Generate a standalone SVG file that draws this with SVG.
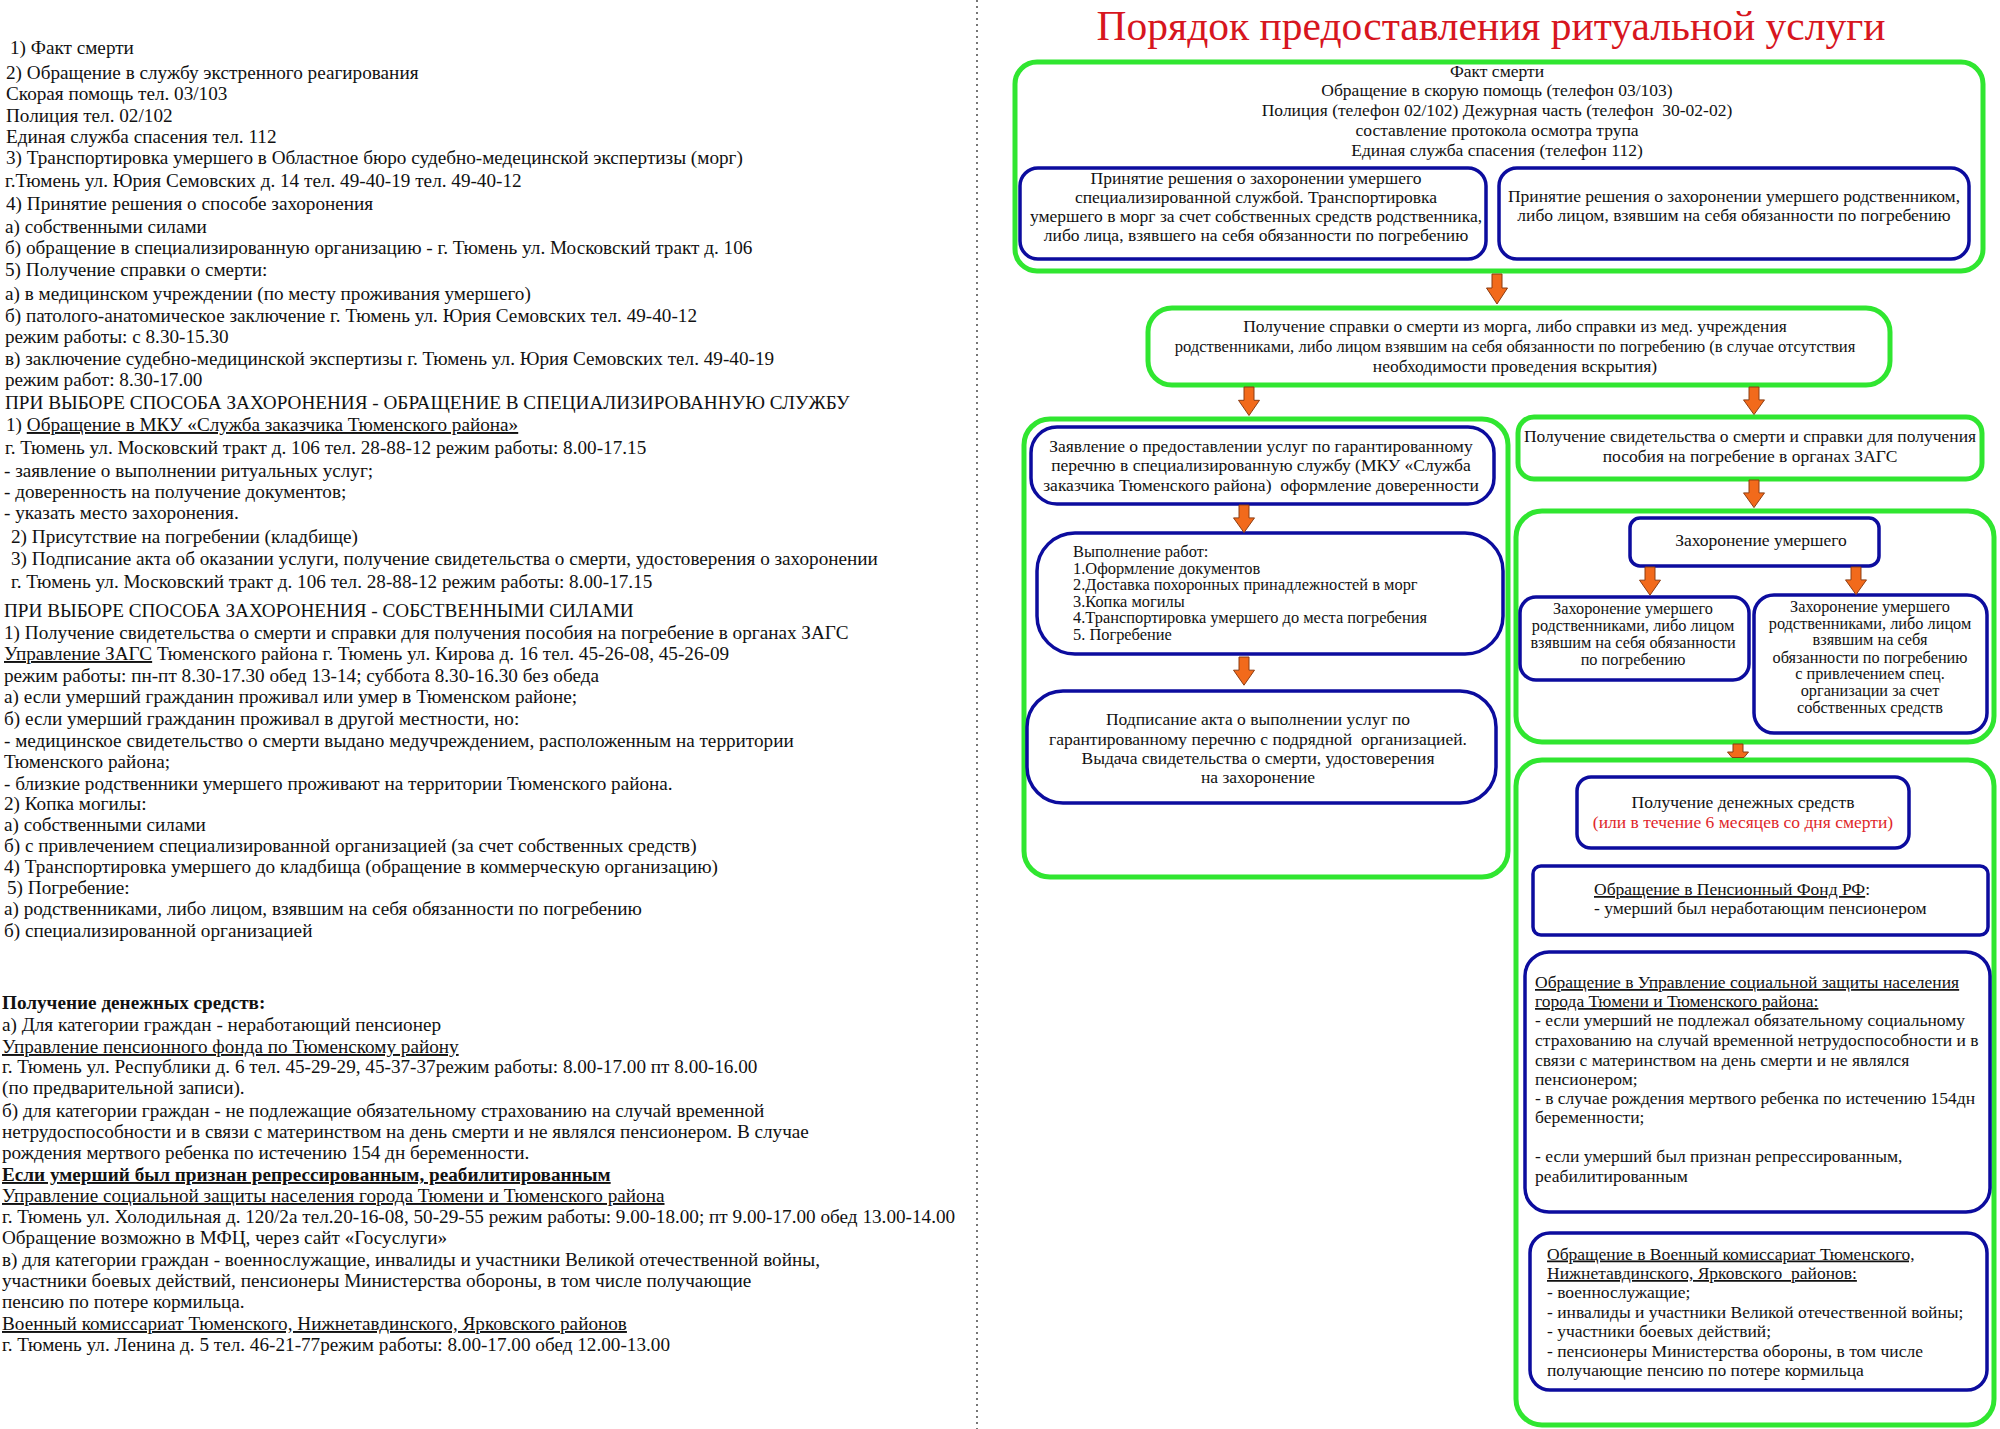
<svg xmlns="http://www.w3.org/2000/svg" xmlns:xlink="http://www.w3.org/1999/xlink" width="2000" height="1429" viewBox="0 0 2000 1429">
<defs>
<style>
text{font-family:'Liberation Serif','Times New Roman',serif;fill:#111}
.l{font-size:19.2px}
.t{font-size:17.5px}
.w{font-size:16.4px}
.s{font-size:16.3px}
.c{text-anchor:middle}
.u{text-decoration:underline}
.bd{font-weight:bold}
.g{fill:none;stroke:#30e630;stroke-width:5}
.b{fill:#fff;stroke:#0c0c9e;stroke-width:3.5}
.arr{fill:#f26a1b;stroke:#8a3b10;stroke-width:1}
.red{fill:#e0262a}
</style>
<path id="arrow" d="M-5,0 H5 V14 H10.5 L0,30 L-10.5,14 H-5 Z"/>
</defs>
<rect width="2000" height="1429" fill="#fff"/>
<line x1="977" y1="0" x2="977" y2="1429" stroke="#555" stroke-width="1.6" stroke-dasharray="2 4"/>

<g id="left-text" class="l">
<text x="10" y="54">1) Факт смерти</text>
<text x="6" y="79">2) Обращение в службу экстренного реагирования</text>
<text x="6" y="100">Скорая помощь тел. 03/103</text>
<text x="6" y="122">Полиция тел. 02/102</text>
<text x="6" y="143">Единая служба спасения тел. 112</text>
<text x="6" y="164">3) Транспортировка умершего в Областное бюро судебно-медецинской экспертизы (морг)</text>
<text x="5" y="187">г.Тюмень ул. Юрия Семовских д. 14 тел. 49-40-19 тел. 49-40-12</text>
<text x="6" y="210">4) Принятие решения о способе захоронения</text>
<text x="5" y="233">а) собственными силами</text>
<text x="5" y="254">б) обращение в специализированную организацию - г. Тюмень ул. Московский тракт д. 106</text>
<text x="5" y="276">5) Получение справки о смерти:</text>
<text x="5" y="300">а) в медицинском учреждении (по месту проживания умершего)</text>
<text x="5" y="322">б) патолого-анатомическое заключение г. Тюмень ул. Юрия Семовских тел. 49-40-12</text>
<text x="5" y="343">режим работы: с 8.30-15.30</text>
<text x="5" y="365">в) заключение судебно-медицинской экспертизы г. Тюмень ул. Юрия Семовских тел. 49-40-19</text>
<text x="5" y="386">режим работ: 8.30-17.00</text>
<text x="5" y="409">ПРИ ВЫБОРЕ СПОСОБА ЗАХОРОНЕНИЯ - ОБРАЩЕНИЕ В СПЕЦИАЛИЗИРОВАННУЮ СЛУЖБУ</text>
<text x="6" y="431">1) <tspan class="u">Обращение в МКУ «Служба заказчика Тюменского района»</tspan></text>
<text x="5" y="454">г. Тюмень ул. Московский тракт д. 106 тел. 28-88-12 режим работы: 8.00-17.15</text>
<text x="4" y="477">- заявление о выполнении ритуальных услуг;</text>
<text x="4" y="498">- доверенность на получение документов;</text>
<text x="4" y="519">- указать место захоронения.</text>
<text x="11" y="543">2) Присутствие на погребении (кладбище)</text>
<text x="11" y="565">3) Подписание акта об оказании услуги, получение свидетельства о смерти, удостоверения о захоронении</text>
<text x="11" y="588">г. Тюмень ул. Московский тракт д. 106 тел. 28-88-12 режим работы: 8.00-17.15</text>
<text x="4" y="617">ПРИ ВЫБОРЕ СПОСОБА ЗАХОРОНЕНИЯ - СОБСТВЕННЫМИ СИЛАМИ</text>
<text x="4" y="639">1) Получение свидетельства о смерти и справки для получения пособия на погребение в органах ЗАГС</text>
<text x="4" y="660"><tspan class="u">Управление ЗАГС</tspan> Тюменского района г. Тюмень ул. Кирова д. 16 тел. 45-26-08, 45-26-09</text>
<text x="4" y="682">режим работы: пн-пт 8.30-17.30 обед 13-14; суббота 8.30-16.30 без обеда</text>
<text x="4" y="703">а) если умерший гражданин проживал или умер в Тюменском районе;</text>
<text x="4" y="725">б) если умерший гражданин проживал в другой местности, но:</text>
<text x="4" y="747">- медицинское свидетельство о смерти выдано медучреждением, расположенным на территории</text>
<text x="4" y="768">Тюменского района;</text>
<text x="4" y="790">- близкие родственники умершего проживают на территории Тюменского района.</text>
<text x="4" y="810">2) Копка могилы:</text>
<text x="4" y="831">а) собственными силами</text>
<text x="4" y="852">б) с привлечением специализированной организацией (за счет собственных средств)</text>
<text x="4" y="873">4) Транспортировка умершего до кладбища (обращение в коммерческую организацию)</text>
<text x="7" y="894">5) Погребение:</text>
<text x="4" y="915">а) родственниками, либо лицом, взявшим на себя обязанности по погребению</text>
<text x="4" y="937">б) специализированной организацией</text>
<text x="2" y="1009" class="bd">Получение денежных средств:</text>
<text x="2" y="1031">а) Для категории граждан - неработающий пенсионер</text>
<text x="2" y="1053" class="u">Управление пенсионного фонда по Тюменскому району</text>
<text x="2" y="1073">г. Тюмень ул. Республики д. 6 тел. 45-29-29, 45-37-37режим работы: 8.00-17.00 пт 8.00-16.00</text>
<text x="2" y="1094">(по предварительной записи).</text>
<text x="2" y="1117">б) для категории граждан - не подлежащие обязательному страхованию на случай временной</text>
<text x="2" y="1138">нетрудоспособности и в связи с материнством на день смерти и не являлся пенсионером. В случае</text>
<text x="2" y="1159">рождения мертвого ребенка по истечению 154 дн беременности.</text>
<text x="2" y="1181" class="bd u">Если умерший был признан репрессированным, реабилитированным</text>
<text x="2" y="1202" class="u">Управление социальной защиты населения города Тюмени и Тюменского района</text>
<text x="2" y="1223">г. Тюмень ул. Холодильная д. 120/2а тел.20-16-08, 50-29-55 режим работы: 9.00-18.00; пт 9.00-17.00 обед 13.00-14.00</text>
<text x="2" y="1244">Обращение возможно в МФЦ, через сайт «Госуслуги»</text>
<text x="2" y="1266">в) для категории граждан - военнослужащие, инвалиды и участники Великой отечественной войны,</text>
<text x="2" y="1287">участники боевых действий, пенсионеры Министерства обороны, в том числе получающие</text>
<text x="2" y="1308">пенсию по потере кормильца.</text>
<text x="2" y="1330" class="u">Военный комиссариат Тюменского, Нижнетавдинского, Ярковского районов</text>
<text x="2" y="1351">г. Тюмень ул. Ленина д. 5 тел. 46-21-77режим работы: 8.00-17.00 обед 12.00-13.00</text>
</g>

<text id="title" x="1491" y="40" class="c" style="font-size:41.5px;fill:#d7161e">Порядок предоставления ритуальной услуги</text>

<g id="n-fact">
<rect class="g" x="1015" y="62" width="968" height="209" rx="22"/>
<text class="t c" x="1497" y="77">Факт смерти</text>
<text class="t c" x="1497" y="96">Обращение в скорую помощь (телефон 03/103)</text>
<text class="t c" x="1497" y="115.5" xml:space="preserve">Полиция (телефон 02/102) Дежурная часть (телефон  30-02-02)</text>
<text class="t c" x="1497" y="136">составление протокола осмотра трупа</text>
<text class="t c" x="1497" y="155.5">Единая служба спасения (телефон 112)</text>
</g>
<g id="n-spec">
<rect class="b" x="1020" y="168" width="466" height="91" rx="18"/>
<text class="t c" x="1256" y="184">Принятие решения о захоронении умершего</text>
<text class="t c" x="1256" y="203">специализированной службой. Транспортировка</text>
<text class="t c" x="1256" y="222">умершего в морг за счет собственных средств родственника,</text>
<text class="t c" x="1256" y="241">либо лица, взявшего на себя обязанности по погребению</text>
</g>
<g id="n-rel">
<rect class="b" x="1499" y="168" width="470" height="91" rx="18"/>
<text class="t c" x="1734" y="201.5">Принятие решения о захоронении умершего родственником,</text>
<text class="t c" x="1734" y="220.5">либо лицом, взявшим на себя обязанности по погребению</text>
</g>
<g id="n-spravka">
<rect class="g" x="1148" y="308" width="742" height="77" rx="24"/>
<text class="t c" x="1515" y="332">Получение справки о смерти из морга, либо справки из мед. учреждения</text>
<text class="t c" x="1515" y="352" style="font-size:16.6px">родственниками, либо лицом взявшим на себя обязанности по погребению (в случае отсутствия</text>
<text class="t c" x="1515" y="372">необходимости проведения вскрытия)</text>
</g>
<g id="n-leftgroup">
<rect class="g" x="1024" y="419" width="484" height="458" rx="26"/>
</g>
<g id="n-zayav">
<rect class="b" x="1031" y="427" width="463" height="77" rx="26"/>
<text class="t c" x="1261" y="451.5">Заявление о предоставлении услуг по гарантированному</text>
<text class="t c" x="1261" y="471">перечню в специализированную службу (МКУ «Служба</text>
<text class="t c" x="1261" y="490.5" xml:space="preserve">заказчика Тюменского района)  оформление доверенности</text>
</g>
<g id="n-work">
<rect class="b" x="1037" y="533" width="466" height="121" rx="38"/>
<text class="w" x="1073" y="557">Выполнение работ:</text>
<text class="w" x="1073" y="573.6">1.Оформление документов</text>
<text class="w" x="1073" y="590.2">2.Доставка похоронных принадлежностей в морг</text>
<text class="w" x="1073" y="606.8">3.Копка могилы</text>
<text class="w" x="1073" y="623.4">4.Транспортировка умершего до места погребения</text>
<text class="w" x="1073" y="640">5. Погребение</text>
</g>
<g id="n-akt">
<rect class="b" x="1027" y="691" width="469" height="112" rx="36"/>
<text class="t c" x="1258" y="724.5">Подписание акта о выполнении услуг по</text>
<text class="t c" x="1258" y="744.5" xml:space="preserve">гарантированному перечню с подрядной  организацией.</text>
<text class="t c" x="1258" y="763.5">Выдача свидетельства о смерти, удостоверения</text>
<text class="t c" x="1258" y="782.5">на захоронение</text>
</g>
<g id="n-zags">
<rect class="g" x="1518" y="417" width="464" height="62" rx="16"/>
<text class="t c" x="1750" y="442">Получение свидетельства о смерти и справки для получения</text>
<text class="t c" x="1750" y="461.5">пособия на погребение в органах ЗАГС</text>
</g>
<g id="n-burialgroup">
<rect class="g" x="1516" y="511" width="478" height="231" rx="26"/>
</g>
<g id="n-burial">
<rect class="b" x="1630" y="518" width="249" height="48" rx="10"/>
<text class="t c" x="1761" y="546">Захоронение умершего</text>
</g>
<g id="n-burial-rel">
<rect class="b" x="1520" y="597" width="229" height="83" rx="16"/>
<text class="s c" x="1633" y="614">Захоронение умершего</text>
<text class="s c" x="1633" y="631">родственниками, либо лицом</text>
<text class="s c" x="1633" y="648">взявшим на себя обязанности</text>
<text class="s c" x="1633" y="665">по погребению</text>
</g>
<g id="n-burial-spec">
<rect class="b" x="1754" y="595" width="233" height="138" rx="20"/>
<text class="s c" x="1870" y="612">Захоронение умершего</text>
<text class="s c" x="1870" y="628.5">родственниками, либо лицом</text>
<text class="s c" x="1870" y="645">взявшим на себя</text>
<text class="s c" x="1870" y="662.5">обязанности по погребению</text>
<text class="s c" x="1870" y="679">с привлечением спец.</text>
<text class="s c" x="1870" y="696">организации за счет</text>
<text class="s c" x="1870" y="713">собственных средств</text>
</g>
<g id="n-moneygroup">
<rect class="g" x="1516" y="760" width="478" height="665" rx="26"/>
</g>
<g id="n-money">
<rect class="b" x="1577" y="777" width="332" height="71" rx="14"/>
<text class="t c" x="1743" y="808">Получение денежных средств</text>
<text class="t c red" x="1743" y="828">(или в течение 6 месяцев со дня смерти)</text>
</g>
<g id="n-pension">
<rect class="b" x="1533" y="866" width="455" height="69" rx="8"/>
<text class="t" x="1594" y="895"><tspan class="u">Обращение в Пенсионный Фонд РФ</tspan>:</text>
<text class="t" x="1594" y="914">- умерший был неработающим пенсионером</text>
</g>
<g id="n-social">
<rect class="b" x="1525" y="952" width="465" height="260" rx="24"/>
<text class="t u" x="1535" y="988">Обращение в Управление социальной защиты населения</text>
<text class="t u" x="1535" y="1007">города Тюмени и Тюменского района:</text>
<text class="t" x="1535" y="1026">- если умерший не подлежал обязательному социальному</text>
<text class="t" x="1535" y="1045.5">страхованию на случай временной нетрудоспособности и в</text>
<text class="t" x="1535" y="1065.5">связи с материнством на день смерти и не являлся</text>
<text class="t" x="1535" y="1084.5">пенсионером;</text>
<text class="t" x="1535" y="1104">- в случае рождения мертвого ребенка по истечению 154дн</text>
<text class="t" x="1535" y="1123">беременности;</text>
<text class="t" x="1535" y="1162">- если умерший был признан репрессированным,</text>
<text class="t" x="1535" y="1181.5">реабилитированным</text>
</g>
<g id="n-military">
<rect class="b" x="1530" y="1233" width="457" height="157" rx="20"/>
<text class="t u" x="1547" y="1259.5" xml:space="preserve">Обращение в Военный комиссариат Тюменского,</text>
<text class="t u" x="1547" y="1279" xml:space="preserve">Нижнетавдинского, Ярковского  районов:</text>
<text class="t" x="1547" y="1298">- военнослужащие;</text>
<text class="t" x="1547" y="1318">- инвалиды и участники Великой отечественной войны;</text>
<text class="t" x="1547" y="1337">- участники боевых действий;</text>
<text class="t" x="1547" y="1356.5">- пенсионеры Министерства обороны, в том числе</text>
<text class="t" x="1547" y="1375.5">получающие пенсию по потере кормильца</text>
</g>

<g id="connectors" class="arr">
<use xlink:href="#arrow" transform="translate(1497,274)"/>
<use xlink:href="#arrow" transform="translate(1249,387) scale(1,0.95)"/>
<use xlink:href="#arrow" transform="translate(1754,387) scale(1,0.92)"/>
<use xlink:href="#arrow" transform="translate(1244,505) scale(1,0.92)"/>
<use xlink:href="#arrow" transform="translate(1754,480) scale(1,0.92)"/>
<use xlink:href="#arrow" transform="translate(1244,657) scale(1,0.94)"/>
<use xlink:href="#arrow" transform="translate(1650,567) scale(1,0.94)"/>
<use xlink:href="#arrow" transform="translate(1856,567) scale(1,0.92)"/>
<path d="M1733,744 H1743 V752 H1748.5 L1744,757.5 H1732 L1727.5,752 H1733 Z"/>
</g>
</svg>
